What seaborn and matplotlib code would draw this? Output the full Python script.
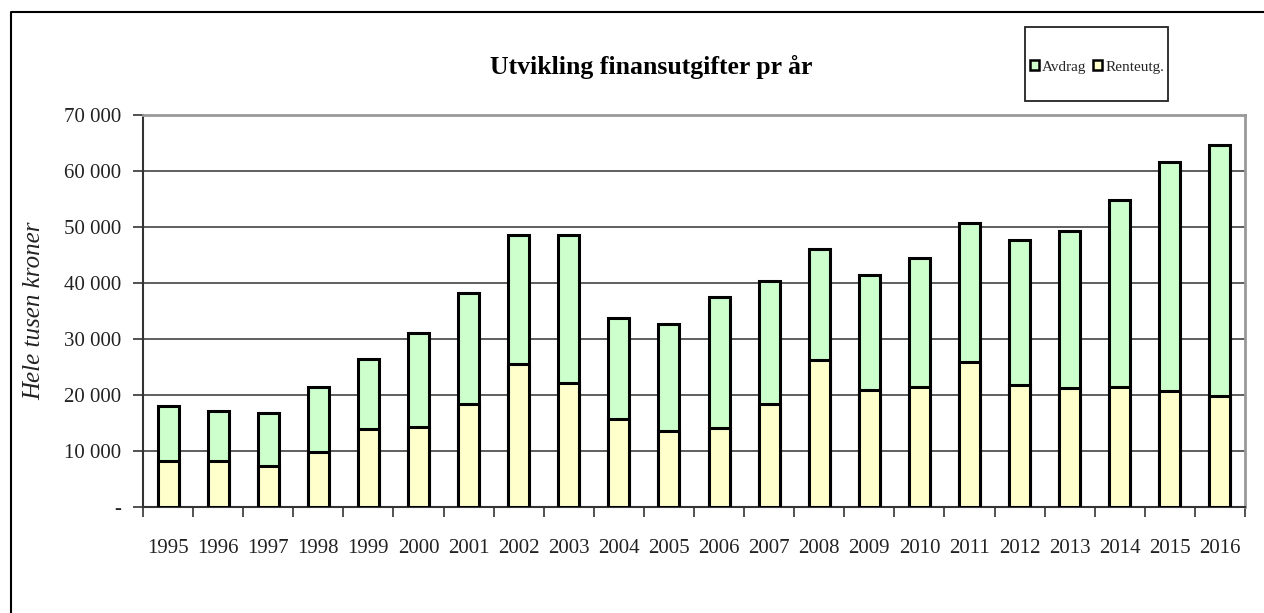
import numpy as np
import pandas as pd
import matplotlib
matplotlib.use("Agg")
import matplotlib.pyplot as plt
from matplotlib.patches import Patch, Rectangle
from matplotlib.lines import Line2D
from matplotlib.ticker import FixedLocator, FuncFormatter
import seaborn as sns

years = ["1995", "1996", "1997", "1998", "1999", "2000", "2001", "2002", "2003", "2004", "2005",
         "2006", "2007", "2008", "2009", "2010", "2011", "2012", "2013", "2014", "2015", "2016"]
renteutg = [8200, 8200, 7400, 9800, 13900, 14200, 18400, 25600, 22200, 15700, 13600,
            14100, 18400, 26200, 20900, 21400, 25900, 21800, 21200, 21400, 20800, 19900]
avdrag = [9900, 9000, 9400, 11600, 12600, 16800, 19900, 22900, 26300, 18100, 19000,
          23400, 21900, 19900, 20600, 23100, 24800, 25900, 28000, 33400, 40800, 44700]
y_ticks = [0, 10000, 20000, 30000, 40000, 50000, 60000, 70000]

title = "Utvikling finansutgifter pr år"
ylabel = "Hele tusen kroner"
green = "#CCFFCC"
yellow = "#FFFFCC"

df = pd.DataFrame({"year": years, "Renteutg.": renteutg, "Avdrag": avdrag})
df["total"] = df["Renteutg."] + df["Avdrag"]

sns.set_theme(style="white")
plt.rcParams["font.family"] = ["Liberation Serif", "DejaVu Serif"]

W, H = 1264, 613
fig = plt.figure(figsize=(W / 100, H / 100), dpi=100)
ax = fig.add_axes([143 / W, 1 - 507 / H, (1245 - 143) / W, (507 - 115) / H])

sns.barplot(data=df, x="year", y="total", color=green, edgecolor="black",
            linewidth=2.2, width=0.42, saturation=1, ax=ax, zorder=3)
sns.barplot(data=df, x="year", y="Renteutg.", color=yellow, edgecolor="black",
            linewidth=2.2, width=0.42, saturation=1, ax=ax, zorder=3)

ax.set_xlim(-0.5, len(years) - 0.5)
ax.set_ylim(0, 70000)
ax.set_xlabel("")
ax.set_ylabel(ylabel, fontsize=18, fontstyle="italic", labelpad=13, color="#222222")

# y axis
ax.yaxis.set_major_locator(FixedLocator(y_ticks))
ax.yaxis.set_major_formatter(FuncFormatter(
    lambda v, p: "-" if v == 0 else f"{int(v):,}".replace(",", " ")))
ax.tick_params(axis="y", direction="out", length=7, width=1.2, color="#333333",
               labelsize=15, pad=9, left=True, labelcolor="#222222")

# x axis: ticks at boundaries, labels at centers
ax.set_xticks(np.arange(-0.5, len(years), 1.0))
ax.set_xticklabels([])
ax.set_xticks(np.arange(len(years)), minor=True)
ax.set_xticklabels(years, minor=True)
ax.tick_params(axis="x", which="major", direction="out", length=7, width=1.2,
               color="#333333", bottom=True)
ax.tick_params(axis="x", which="minor", length=0, labelsize=15, pad=23,
               labelcolor="#222222")

ax.yaxis.grid(True, color="#333333", linewidth=1.1)
ax.xaxis.grid(False)
ax.set_axisbelow(True)

for s in ["left", "bottom"]:
    ax.spines[s].set_color("#333333")
    ax.spines[s].set_linewidth(1.5)
for s in ["top", "right"]:
    ax.spines[s].set_visible(True)
    ax.spines[s].set_color("#999999")
    ax.spines[s].set_linewidth(2)

# title
fig.text(651 / W, 1 - 67 / H, title, ha="center", va="center",
         fontsize=18.5, fontweight="bold", color="black")

# legend with box
fig.patches.append(Rectangle((1025 / W, 1 - 101 / H), (1168 - 1025) / W, (101 - 27) / H,
                             transform=fig.transFigure, fill=False, edgecolor="#222222",
                             linewidth=1.3))
handles = [Patch(facecolor=green, edgecolor="black", linewidth=1.8, label="Avdrag"),
           Patch(facecolor=yellow, edgecolor="black", linewidth=1.8, label="Renteutg.")]
fig.legend(handles=handles, loc="center", bbox_to_anchor=(1097 / W, 1 - 67 / H),
           ncol=2, frameon=False, fontsize=11, handlelength=0.6, handleheight=0.6,
           handletextpad=0.2, columnspacing=0.45, borderpad=0)

# outer border (top and left)
fig.add_artist(Line2D([11 / W, 11 / W, 1.01], [-0.01, 1 - 12 / H, 1 - 12 / H],
                      transform=fig.transFigure, color="black", linewidth=1.5))

fig.savefig("out.png", dpi=100)
